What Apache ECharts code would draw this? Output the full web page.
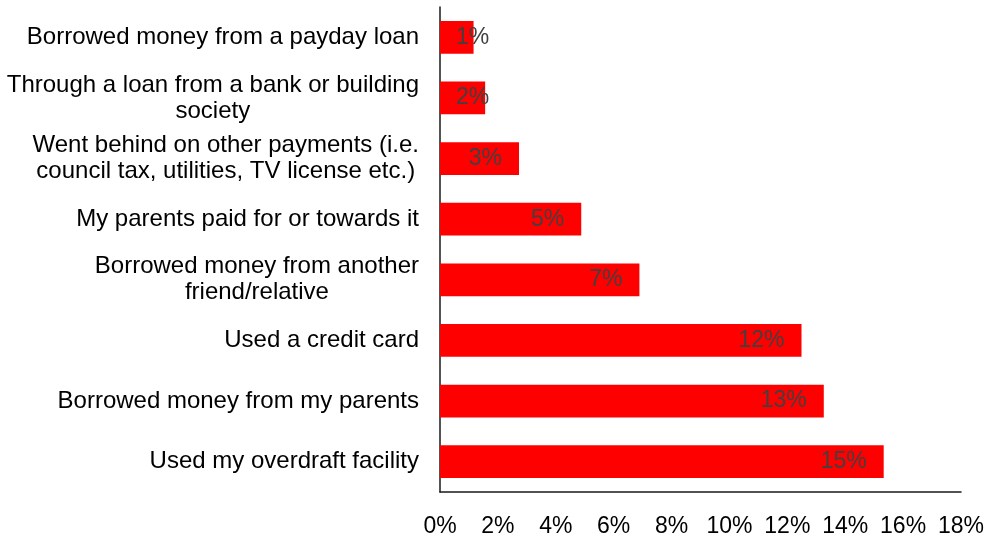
<!DOCTYPE html>
<html>
<head>
<meta charset="utf-8">
<style>
  html, body { margin: 0; padding: 0; background: #fff; }
  #chart { width: 987px; height: 538px; }
</style>
<script src="https://cdn.jsdelivr.net/npm/echarts@6/dist/echarts.min.js"></script>
</head>
<body>
<div id="chart"></div>
<script>
// Ways of covering the shortfall, top to bottom
const categories = [
  'Borrowed money from a payday loan',
  'Through a loan from a bank or building\nsociety',
  'Went behind on other payments (i.e.\ncouncil tax, utilities, TV license etc.)',
  'My parents paid for or towards it',
  'Borrowed money from another\nfriend/relative',
  'Used a credit card',
  'Borrowed money from my parents',
  'Used my overdraft facility'
];

// Share of respondents, in percent
const shares = [1.16, 1.56, 2.73, 4.88, 6.89, 12.49, 13.26, 15.33];

// Percent axis ticks
const axisMin = 0;
const axisMax = 18;
const axisStep = 2;

const FONT = 'Liberation Sans, Arial, sans-serif';

// Short bars cannot hold their label from the right end, so those labels start from the axis
const seriesData = shares.map(v => ({
  value: v,
  label: v < 2.3
    ? { position: 'insideLeft', distance: 16 }
    : { position: 'insideRight', distance: 17 }
}));

const chart = echarts.init(document.getElementById('chart'));
chart.setOption({
  animation: false,
  backgroundColor: '#ffffff',
  grid: { left: 440, right: 26, top: 7, bottom: 43, containLabel: false },
  xAxis: {
    type: 'value',
    min: axisMin,
    max: axisMax,
    interval: axisStep,
    axisLine: { show: true, lineStyle: { color: '#1a1a1a', width: 1.5 } },
    axisTick: { show: false },
    splitLine: { show: false },
    axisLabel: {
      formatter: v => v + '%',
      color: '#000',
      fontFamily: FONT,
      fontSize: 23,
      margin: 23
    }
  },
  yAxis: {
    type: 'category',
    inverse: true,
    data: categories,
    axisLine: { show: true, lineStyle: { color: '#1a1a1a', width: 1.5 } },
    axisTick: { show: false },
    splitLine: { show: false },
    axisLabel: {
      margin: 21,
      formatter: v => v.split('\n').map(line => '{c|' + line + '}').join('\n'),
      rich: {
        c: {
          align: 'center',
          color: '#000',
          fontFamily: FONT,
          fontSize: 24,
          lineHeight: 26
        }
      }
    }
  },
  series: [{
    type: 'bar',
    data: seriesData,
    barCategoryGap: '46%',
    itemStyle: { color: '#ff0000' },
    label: {
      show: true,
      formatter: p => Math.round(p.value) + '%',
      color: '#404040',
      fontFamily: FONT,
      fontSize: 23
    }
  }]
});
</script>
</body>
</html>
